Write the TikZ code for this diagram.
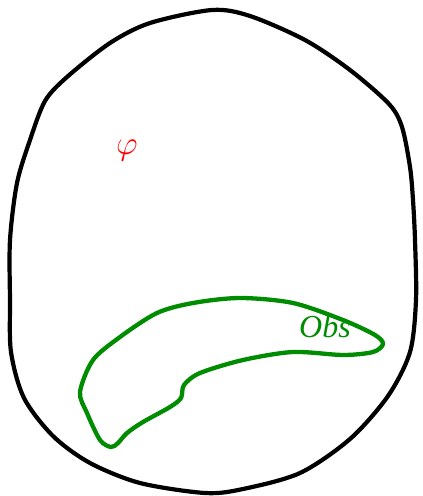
\documentclass[tikz,border=0pt]{standalone}
\usepackage{fontspec}
\usepackage{graphicx}
\setmainfont{Liberation Serif}
\definecolor{obsgreen}{RGB}{0,140,0}
\begin{document}
\begin{tikzpicture}[x=1pt,y=-1pt,
  outer/.style={line width=4.2pt,black,line join=round},
  obsline/.style={line width=4.3pt,obsgreen,line join=round},
  lbl/.style={inner sep=0pt}]
\useasboundingbox (0,0) rectangle (423,496);
\draw[outer] plot[smooth cycle,tension=0.5] coordinates {
 (212,10) (150,23) (110,43) (67,77) (45,101) (30,140) (17,183) (10,240)
 (10,300) (11,352) (24,398) (53,436) (90,463) (140,483) (205,493)
 (243,489) (300,473) (350,439) (388,396) (410,352) (416,300) (415,240)
 (413,200) (410,167) (402,127) (389,104) (350,70) (305,40) (250,16)};
\draw[obsline] plot[smooth cycle,tension=0.5] coordinates {
 (80,392) (93,360) (120,337) (157,313) (193,303) (240,298) (293,303)
 (343,320) (375,335) (383,344) (373,352) (343,355) (293,352) (243,360)
 (200,373) (184,385) (181,398) (170,407) (143,422) (127,433) (118,443)
 (111,447) (100,440) (87,413)};
\node[lbl,text=red,font=\fontsize{24.88}{28}\selectfont] (phi) at (127,151) {\scalebox{1.35}{$\varphi$}};
\node[lbl,text=obsgreen,font=\fontsize{32}{36}\itshape,anchor=base] (obs) at (325,337) {Obs};
\end{tikzpicture}
\end{document}
